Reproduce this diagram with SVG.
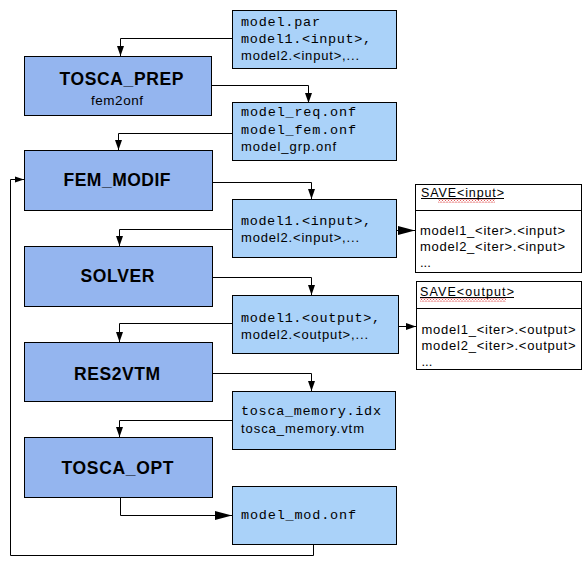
<svg xmlns="http://www.w3.org/2000/svg" width="587" height="580" viewBox="0 0 587 580">
<style>
.node{fill:#94B5EF;stroke:#000;stroke-width:1}
.data{fill:#AAD2F9;stroke:#000;stroke-width:1}
.save{fill:#fff;stroke:#000;stroke-width:1}
.lbl{font-family:"Liberation Sans",Arial,sans-serif;font-weight:bold;font-size:17.5px;fill:#000;text-anchor:middle}
.sub{font-family:"Liberation Sans",Arial,sans-serif;font-size:13.5px;fill:#000;text-anchor:middle}
.mono{font-family:"Liberation Mono","Courier New",monospace;font-size:13.5px;fill:#000}
.sans{font-family:"Liberation Sans",Arial,sans-serif;font-size:13px;fill:#000}
.ss{font-family:"Liberation Sans",Arial,sans-serif;font-size:12.5px;fill:#000}
.conn path{fill:none;stroke:#000;stroke-width:1}
.c1{marker-end:url(#arr)}
.c2{marker-end:url(#arrL)}
</style>
<defs>
<marker id="arr" markerUnits="userSpaceOnUse" markerWidth="10" markerHeight="8" refX="10" refY="4" orient="auto"><path d="M0,0.5 L10,4 L0,7.5 z" fill="#000"/></marker>
<marker id="arrL" markerUnits="userSpaceOnUse" markerWidth="17" markerHeight="10" refX="17" refY="5" orient="auto"><path d="M0,0.5 L17,5 L0,9.5 z" fill="#000"/></marker>
<marker id="arrS" markerUnits="userSpaceOnUse" markerWidth="9" markerHeight="7" refX="9" refY="3.5" orient="auto"><path d="M0,0.5 L9,3.5 L0,6.5 z" fill="#000"/></marker>
<pattern id="wave" width="3" height="3" patternUnits="userSpaceOnUse"><path d="M0,0.5 L1.5,2.5 L3,0.5" stroke="#d00000" stroke-width="0.8" fill="none"/></pattern>
</defs>

<g id="connectors" class="conn">
<path class="c1" d="M232,38.5 H120.5 V56"/>
<path class="c1" d="M211,85.5 H308.5 V103"/>
<path class="c1" d="M232,133.5 H118.5 V150"/>
<path class="c1" d="M212,182.5 H311.5 V199"/>
<path class="c1" d="M232,229.5 H119.5 V246"/>
<path class="c2" d="M396,230.5 H415"/>
<path class="c1" d="M212,277.5 H311.5 V295"/>
<path class="c1" d="M232,323.5 H119.5 V342"/>
<path class="c1" d="M399,326.5 H416"/>
<path class="c1" d="M212,373.5 H311.5 V391"/>
<path class="c1" d="M232,420.5 H119.5 V437"/>
<path class="c2" d="M120.5,497 V515.5 H232"/>
<path style="marker-end:url(#arrS)" d="M313.5,544 V555.5 H10.5 V179.5 H24"/>
</g>

<g id="model_par">
<rect class="data" x="232.5" y="10.5" width="164" height="58"/>
<text class="mono" x="241" y="26" textLength="79" lengthAdjust="spacing">model.par</text>
<text class="mono" x="241" y="42.5" textLength="130" lengthAdjust="spacing">model1.&lt;input&gt;,</text>
<text class="sans" x="241" y="60" textLength="118" lengthAdjust="spacing">model2.&lt;input&gt;,...</text>
</g>

<g id="tosca_prep">
<rect class="node" x="24.5" y="56.5" width="187" height="59"/>
<text class="lbl" x="121.5" y="85" textLength="124" lengthAdjust="spacing">TOSCA_PREP</text>
<text class="sub" x="117" y="105" textLength="52" lengthAdjust="spacing">fem2onf</text>
</g>

<g id="model_req">
<rect class="data" x="232.5" y="102.5" width="164" height="58"/>
<text class="mono" x="241" y="116" textLength="115" lengthAdjust="spacing">model_req.onf</text>
<text class="mono" x="241" y="133.5" textLength="115" lengthAdjust="spacing">model_fem.onf</text>
<text class="sans" x="241" y="151" textLength="95" lengthAdjust="spacing">model_grp.onf</text>
</g>

<g id="fem_modif">
<rect class="node" x="24.5" y="150.5" width="188" height="60"/>
<text class="lbl" x="117" y="186" textLength="107" lengthAdjust="spacing">FEM_MODIF</text>
</g>

<g id="input_files">
<rect class="data" x="232.5" y="199.5" width="164" height="58"/>
<text class="mono" x="241" y="225" textLength="130" lengthAdjust="spacing">model1.&lt;input&gt;,</text>
<text class="sans" x="241" y="242" textLength="118" lengthAdjust="spacing">model2.&lt;input&gt;,...</text>
</g>

<g id="save_input">
<rect class="save" x="415.5" y="184.5" width="166" height="88"/>
<line x1="415.5" y1="210.5" x2="581.5" y2="210.5" stroke="#000" stroke-width="1"/>
<text class="ss" x="421" y="197" textLength="83" lengthAdjust="spacing">SAVE&lt;input&gt;</text>
<line x1="421" y1="198.5" x2="504" y2="198.5" stroke="#000" stroke-width="1"/>
<rect x="438" y="199.5" width="57" height="3" fill="url(#wave)"/>
<text class="sans" x="420" y="234.5" textLength="145" lengthAdjust="spacing">model1_&lt;iter&gt;.&lt;input&gt;</text>
<text class="sans" x="420" y="251" textLength="145" lengthAdjust="spacing">model2_&lt;iter&gt;.&lt;input&gt;</text>
<text class="sans" x="420" y="267">...</text>
</g>

<g id="solver">
<rect class="node" x="24.5" y="246.5" width="188" height="60"/>
<text class="lbl" x="117.5" y="282" textLength="74" lengthAdjust="spacing">SOLVER</text>
</g>

<g id="output_files">
<rect class="data" x="232.5" y="295.5" width="166" height="58"/>
<text class="mono" x="241" y="322" textLength="139" lengthAdjust="spacing">model1.&lt;output&gt;,</text>
<text class="sans" x="241" y="338.5" textLength="127" lengthAdjust="spacing">model2.&lt;output&gt;,...</text>
</g>

<g id="save_output">
<rect class="save" x="416.5" y="281.5" width="165" height="88"/>
<line x1="416.5" y1="308.5" x2="581.5" y2="308.5" stroke="#000" stroke-width="1"/>
<text class="ss" x="420" y="296" textLength="94" lengthAdjust="spacing">SAVE&lt;output&gt;</text>
<line x1="420" y1="297.5" x2="514" y2="297.5" stroke="#000" stroke-width="1"/>
<rect x="420" y="298.5" width="86" height="3" fill="url(#wave)"/>
<text class="sans" x="421.5" y="334" textLength="154" lengthAdjust="spacing">model1_&lt;iter&gt;.&lt;output&gt;</text>
<text class="sans" x="421.5" y="350" textLength="154" lengthAdjust="spacing">model2_&lt;iter&gt;.&lt;output&gt;</text>
<text class="sans" x="421.5" y="365.5">...</text>
</g>

<g id="res2vtm">
<rect class="node" x="24.5" y="342.5" width="188" height="59"/>
<text class="lbl" x="117" y="379.5" textLength="86" lengthAdjust="spacing">RES2VTM</text>
</g>

<g id="tosca_memory">
<rect class="data" x="232.5" y="391.5" width="163" height="58"/>
<text class="mono" x="241" y="415" textLength="140" lengthAdjust="spacing">tosca_memory.idx</text>
<text class="sans" x="241" y="433" textLength="123" lengthAdjust="spacing">tosca_memory.vtm</text>
</g>

<g id="tosca_opt">
<rect class="node" x="24.5" y="437.5" width="188" height="60"/>
<text class="lbl" x="117.5" y="474" textLength="112" lengthAdjust="spacing">TOSCA_OPT</text>
</g>

<g id="model_mod">
<rect class="data" x="232.5" y="486.5" width="164" height="58"/>
<text class="mono" x="241" y="518.5" textLength="115" lengthAdjust="spacing">model_mod.onf</text>
</g>
</svg>
